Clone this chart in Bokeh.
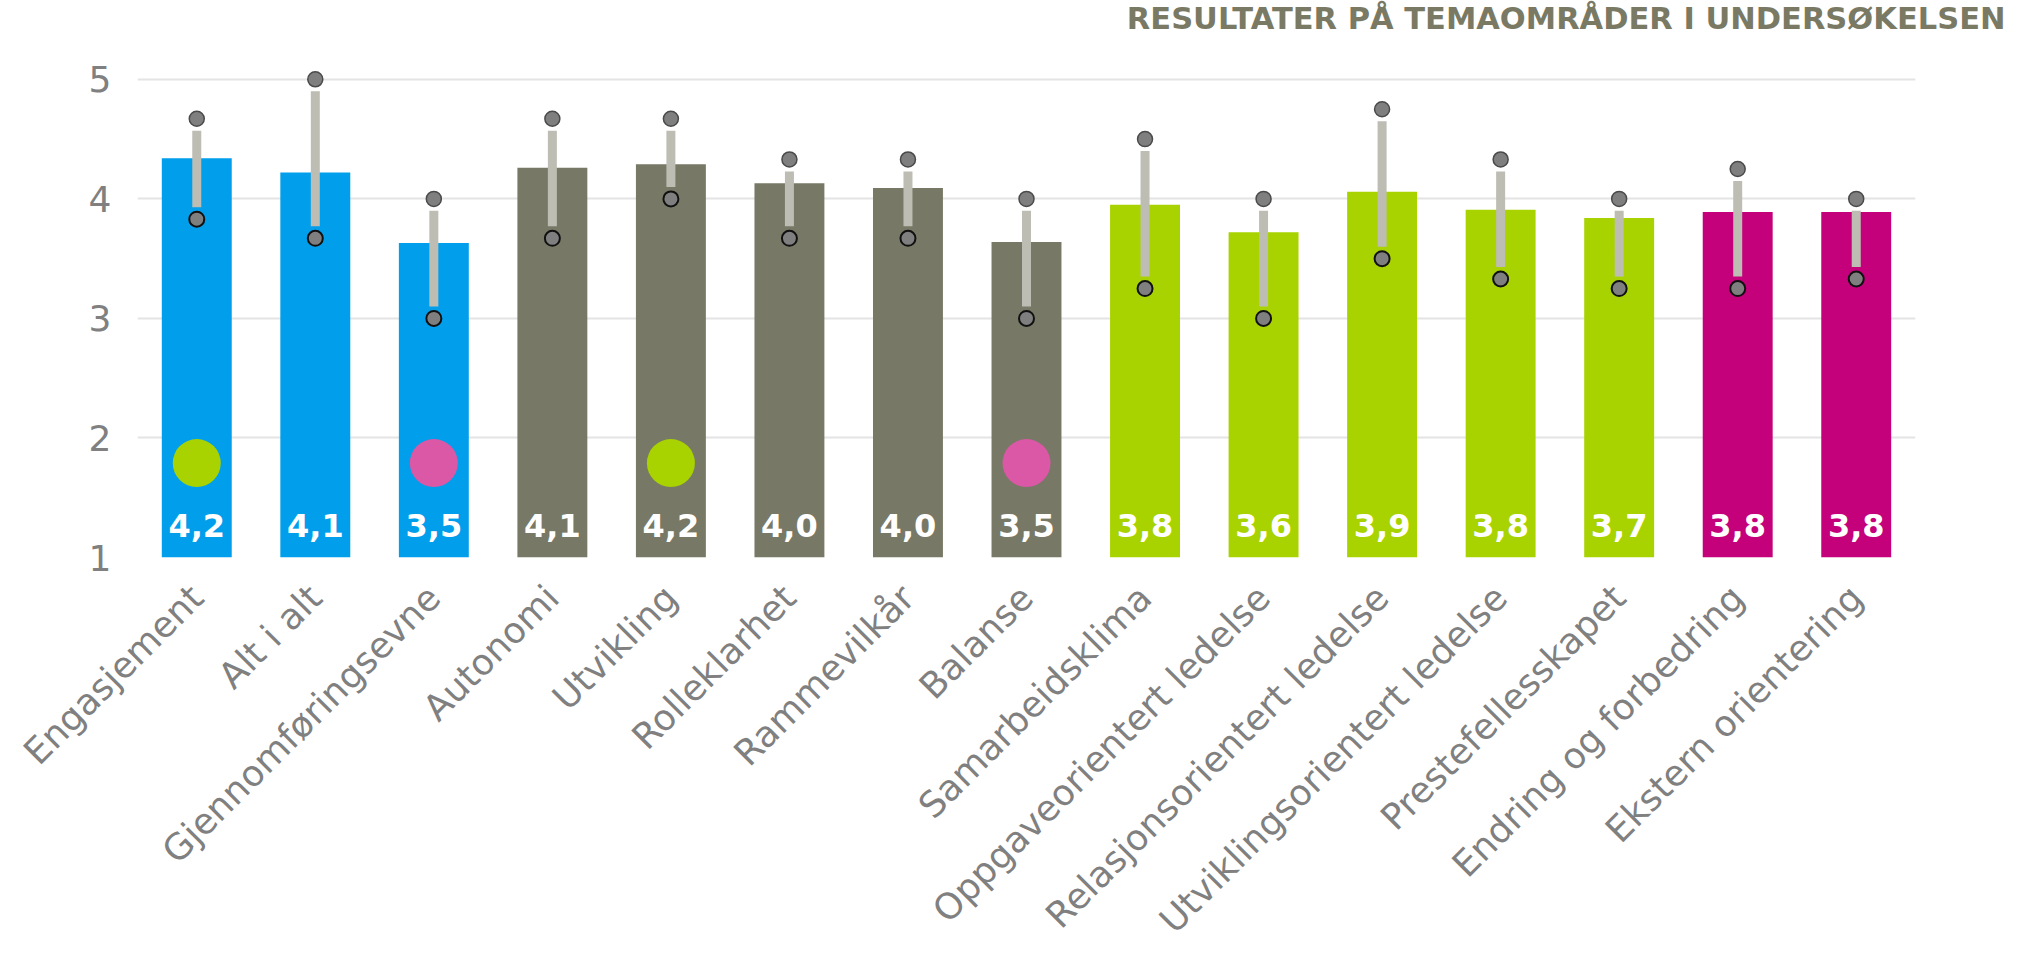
import math
from bokeh.plotting import figure
from bokeh.models import ColumnDataSource, FixedTicker, Range1d, FactorRange, CDSView, BooleanFilter
from bokeh.transform import factor_cmap
from bokeh.core.properties import value
from bokeh.embed import file_html
from bokeh.resources import INLINE

# ---------------- data ----------------
categories = ["Engasjement", "Alt i alt", "Gjennomføringsevne", "Autonomi", "Utvikling",
              "Rolleklarhet", "Rammevilkår", "Balanse", "Samarbeidsklima",
              "Oppgaveorientert ledelse", "Relasjonsorientert ledelse",
              "Utviklingsorientert ledelse", "Prestefellesskapet",
              "Endring og forbedring", "Ekstern orientering"]
groups = ["G1", "G1", "G1", "G2", "G2", "G2", "G2", "G2",
          "G3", "G3", "G3", "G3", "G3", "G4", "G4"]
bar_values = [4.34, 4.22, 3.63, 4.26, 4.29, 4.13, 4.09, 3.64,
              3.95, 3.72, 4.06, 3.91, 3.84, 3.89, 3.89]
value_labels = ["4,2", "4,1", "3,5", "4,1", "4,2", "4,0", "4,0", "3,5",
                "3,8", "3,6", "3,9", "3,8", "3,7", "3,8", "3,8"]
high_values = [4.67, 5.0, 4.0, 4.67, 4.67, 4.33, 4.33, 4.0,
               4.5, 4.0, 4.75, 4.33, 4.0, 4.25, 4.0]
low_values = [3.83, 3.67, 3.0, 3.67, 4.0, 3.67, 3.67, 3.0,
              3.25, 3.0, 3.5, 3.33, 3.25, 3.25, 3.33]
trend = ["opp", "", "ned", "", "opp", "", "", "ned",
         "", "", "", "", "", "", ""]
y_ticks = [1, 2, 3, 4, 5]
title_text = "RESULTATER PÅ TEMAOMRÅDER I UNDERSØKELSEN"

# ---------------- styles ----------------
group_names = ["G1", "G2", "G3", "G4"]
group_colors = ["#019EEB", "#787866", "#A8D300", "#C4007A"]
trend_names = ["opp", "ned"]
trend_colors = ["#A8D300", "#DA58A6"]
FONT = "DejaVu Sans"
GAP = 0.1          # gap between whisker line and its end dots (data units)
IND_Y = 1.79       # vertical position of the trend indicator dots
LBL_Y = 1.27       # vertical position of the value labels

src = ColumnDataSource(dict(
    cat=categories, group=groups, val=bar_values, lbl=value_labels,
    hi=high_values, lo=low_values, trend=trend,
    seg_top=[h - GAP for h in high_values],
    seg_bot=[l + GAP for l in low_values],
))

p = figure(x_range=FactorRange(factors=categories, range_padding=0),
           y_range=Range1d(1, 5.35),
           width=2008, height=958,
           output_backend="svg", toolbar_location=None,
           min_border_left=137, min_border_right=93,
           min_border_top=20, min_border_bottom=380)
p.outline_line_color = None
p.background_fill_color = "white"
p.border_fill_color = "white"

p.title.text = title_text
p.title.align = "right"
p.title.offset = -90
p.title.standoff = 0
p.title.vertical_align = "top"
p.title.text_font = FONT
p.title.text_font_size = "30.5px"
p.title.text_font_style = "bold"
p.title.text_color = "#7A7A64"

p.vbar(x="cat", top="val", bottom=1, width=0.59, source=src,
       fill_color=factor_cmap("group", group_colors, group_names),
       line_color=None)

p.segment(x0="cat", y0="seg_bot", x1="cat", y1="seg_top", source=src,
          line_color="#BDBDB3", line_width=9, line_cap="butt")

p.scatter(x="cat", y="hi", source=src, size=15, fill_color="#7F7F7F",
          line_color="#4A4A4A", line_width=1.5)
p.scatter(x="cat", y="lo", source=src, size=15, fill_color="#7F7F7F",
          line_color="#111111", line_width=2)

has_trend = [t != "" for t in trend]
p.scatter(x="cat", y=IND_Y, source=src, view=CDSView(filter=BooleanFilter(has_trend)),
          size=48, line_color=None,
          fill_color=factor_cmap("trend", trend_colors, trend_names))

p.text(x="cat", y=LBL_Y, text="lbl", source=src,
       text_align="center", text_baseline="middle",
       text_color="white", text_font=value(FONT),
       text_font_size="32px", text_font_style="bold")

# axes
p.yaxis.ticker = FixedTicker(ticks=y_ticks)
p.yaxis.axis_line_color = None
p.yaxis.major_tick_line_color = None
p.yaxis.minor_tick_line_color = None
p.yaxis.major_label_text_font = FONT
p.yaxis.major_label_text_font_size = "36px"
p.yaxis.major_label_text_color = "#808080"
p.yaxis.major_label_standoff = 20

p.xaxis.axis_line_color = None
p.xaxis.major_tick_line_color = None
p.xaxis.major_label_orientation = math.pi / 4
p.xaxis.major_label_text_font = FONT
p.xaxis.major_label_text_font_size = "36px"
p.xaxis.major_label_text_line_height = 0.7
p.xaxis.major_label_text_color = "#808080"
p.xaxis.major_label_standoff = 28

p.xgrid.grid_line_color = None
p.ygrid.ticker = FixedTicker(ticks=y_ticks)
p.ygrid.grid_line_color = "#E4E4E4"
p.ygrid.grid_line_width = 2

open("out.html", "w").write(file_html(p, INLINE))
